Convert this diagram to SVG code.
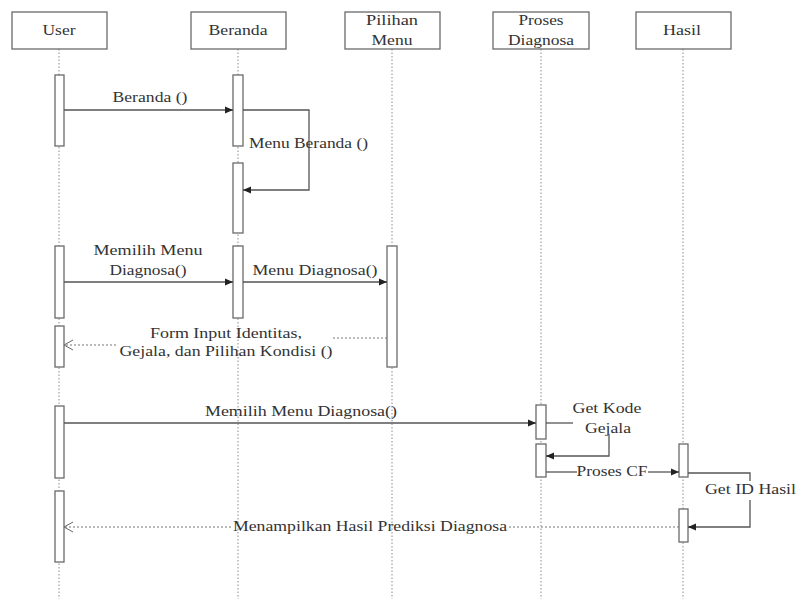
<svg xmlns="http://www.w3.org/2000/svg" width="800" height="599" viewBox="0 0 800 599">
  <style>
    .box { fill: #fff; stroke: #6a6a6a; stroke-width: 1.3; }
    .life { stroke: #8a8a8a; stroke-width: 1; stroke-dasharray: 1.5 2; fill: none; }
    .act { fill: #fff; stroke: #6a6a6a; stroke-width: 1.3; }
    .msg { stroke: #555; stroke-width: 1.3; fill: none; }
    .ret { stroke: #777; stroke-width: 1; stroke-dasharray: 2 2; fill: none; }
    text { font-family: "Liberation Serif", "Times New Roman", serif; font-size: 15px; fill: #333; }
    .c { text-anchor: middle; }
  </style>
  <defs>
    <marker id="solid" markerUnits="userSpaceOnUse" markerWidth="9" markerHeight="8" refX="8" refY="4" orient="auto">
      <path d="M0,0.5 L8,4 L0,7.5 Z" fill="#222"/>
    </marker>
    <marker id="open" markerUnits="userSpaceOnUse" markerWidth="12" markerHeight="12" refX="10" refY="6" orient="auto">
      <path d="M1,1 L10,6 L1,11" fill="none" stroke="#666" stroke-width="1"/>
    </marker>
  </defs>
  <rect width="800" height="599" fill="#fff"/>

  <!-- participants with lifelines -->
  <g id="user">
    <line class="life" x1="59" y1="49" x2="59" y2="599"/>
    <rect class="box" x="12" y="12" width="95" height="37"/>
    <text class="c" x="59" y="35" textLength="33" lengthAdjust="spacingAndGlyphs">User</text>
  </g>
  <g id="beranda">
    <line class="life" x1="238" y1="49" x2="238" y2="599"/>
    <rect class="box" x="191" y="12" width="95" height="37"/>
    <text class="c" x="238" y="35" textLength="59" lengthAdjust="spacingAndGlyphs">Beranda</text>
  </g>
  <g id="pilihan-menu">
    <line class="life" x1="392" y1="49" x2="392" y2="599"/>
    <rect class="box" x="345" y="12" width="95" height="37"/>
    <text class="c" x="392" y="25" textLength="52" lengthAdjust="spacingAndGlyphs">Pilihan</text>
    <text class="c" x="392" y="45" textLength="41" lengthAdjust="spacingAndGlyphs">Menu</text>
  </g>
  <g id="proses-diagnosa">
    <line class="life" x1="541" y1="49" x2="541" y2="599"/>
    <rect class="box" x="493" y="12" width="96" height="37"/>
    <text class="c" x="541" y="25" textLength="45" lengthAdjust="spacingAndGlyphs">Proses</text>
    <text class="c" x="541" y="45" textLength="66" lengthAdjust="spacingAndGlyphs">Diagnosa</text>
  </g>
  <g id="hasil">
    <line class="life" x1="683" y1="49" x2="683" y2="599"/>
    <rect class="box" x="636" y="12" width="95" height="37"/>
    <text class="c" x="682" y="35" textLength="38" lengthAdjust="spacingAndGlyphs">Hasil</text>
  </g>

  <!-- activation bars -->
  <g id="activations">
    <rect class="act" x="55" y="75" width="9" height="71"/>
    <rect class="act" x="55" y="246" width="9" height="72"/>
    <rect class="act" x="55" y="326" width="9" height="41"/>
    <rect class="act" x="55" y="406" width="9" height="72"/>
    <rect class="act" x="55" y="491" width="9" height="71"/>
    <rect class="act" x="233" y="75" width="10" height="71"/>
    <rect class="act" x="233" y="163" width="10" height="70"/>
    <rect class="act" x="233" y="246" width="10" height="72"/>
    <rect class="act" x="387" y="246" width="10" height="121"/>
    <rect class="act" x="536" y="405" width="10" height="34"/>
    <rect class="act" x="536" y="444" width="10" height="33"/>
    <rect class="act" x="679" y="444" width="9" height="33"/>
    <rect class="act" x="679" y="509" width="9" height="33"/>
  </g>

  <!-- messages -->
  <g id="connectors">
    <line class="msg" x1="64" y1="110" x2="233" y2="110" marker-end="url(#solid)"/>
    <polyline class="msg" points="243,110 309,110 309,190 243,190" marker-end="url(#solid)"/>
    <line class="msg" x1="64" y1="282" x2="233" y2="282" marker-end="url(#solid)"/>
    <line class="msg" x1="243" y1="282" x2="387" y2="282" marker-end="url(#solid)"/>
    <line class="ret" x1="387" y1="338" x2="333" y2="338"/>
    <line class="ret" x1="116" y1="345" x2="64" y2="345" marker-end="url(#open)"/>
    <line class="msg" x1="64" y1="423" x2="536" y2="423" marker-end="url(#solid)"/>
    <line class="msg" x1="546" y1="423" x2="573" y2="423"/>
    <polyline class="msg" points="609,434 609,456 546,456" marker-end="url(#solid)"/>
    <line class="msg" x1="546" y1="472" x2="577" y2="472"/>
    <line class="msg" x1="648" y1="472" x2="679" y2="472" marker-end="url(#solid)"/>
    <polyline class="msg" points="688,473 750,473 750,481"/>
    <polyline class="msg" points="750,500 750,527 688,527" marker-end="url(#solid)"/>
    <line class="ret" x1="679" y1="527" x2="508" y2="527"/>
    <line class="ret" x1="231" y1="527" x2="64" y2="527" marker-end="url(#open)"/>
  </g>

  <!-- message labels -->
  <g id="labels">
    <text class="c" x="150" y="102" textLength="75" lengthAdjust="spacingAndGlyphs">Beranda ()</text>
    <text x="249" y="148" textLength="119" lengthAdjust="spacingAndGlyphs">Menu Beranda ()</text>
    <text class="c" x="148" y="255" textLength="109" lengthAdjust="spacingAndGlyphs">Memilih Menu</text>
    <text class="c" x="148" y="275" textLength="77" lengthAdjust="spacingAndGlyphs">Diagnosa()</text>
    <text class="c" x="315" y="275" textLength="125" lengthAdjust="spacingAndGlyphs">Menu Diagnosa()</text>
    <text class="c" x="226" y="338" textLength="152" lengthAdjust="spacingAndGlyphs">Form Input Identitas,</text>
    <text class="c" x="226" y="356" textLength="213" lengthAdjust="spacingAndGlyphs">Gejala, dan Pilihan Kondisi ()</text>
    <text class="c" x="301" y="416" textLength="192" lengthAdjust="spacingAndGlyphs">Memilih Menu Diagnosa()</text>
    <text class="c" x="607" y="413" textLength="69" lengthAdjust="spacingAndGlyphs">Get Kode</text>
    <text class="c" x="608" y="433" textLength="46" lengthAdjust="spacingAndGlyphs">Gejala</text>
    <text class="c" x="612" y="476" textLength="71" lengthAdjust="spacingAndGlyphs">Proses CF</text>
    <text x="705" y="494" textLength="91" lengthAdjust="spacingAndGlyphs">Get ID Hasil</text>
    <text class="c" x="370" y="531" textLength="274" lengthAdjust="spacingAndGlyphs">Menampilkan Hasil Prediksi Diagnosa</text>
  </g>
</svg>
